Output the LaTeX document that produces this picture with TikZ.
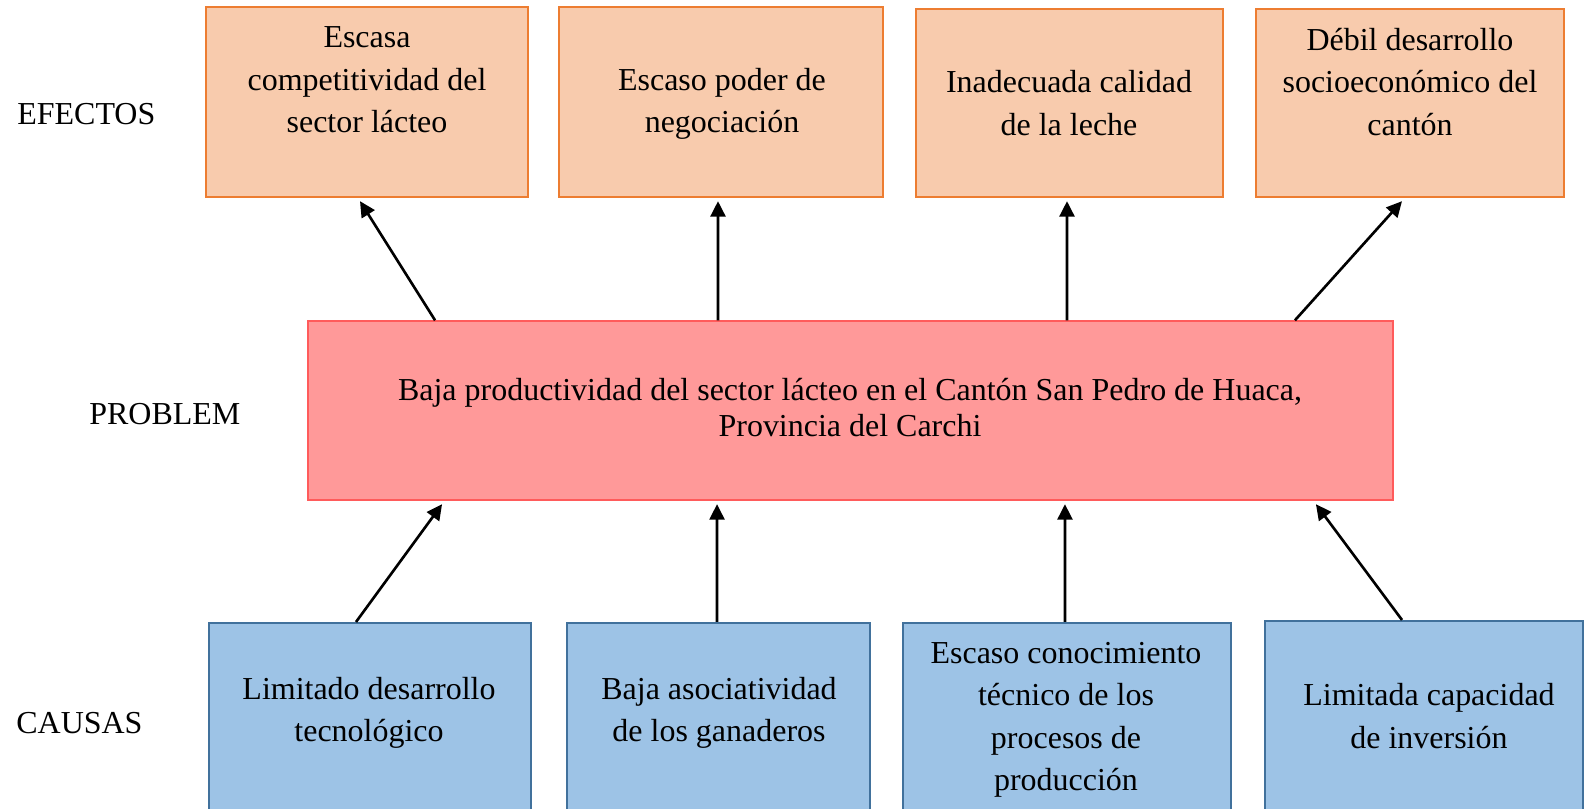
\documentclass[tikz,border=0pt]{standalone}
\usepackage{fontspec}
\setmainfont{Liberation Serif}
\usetikzlibrary{arrows.meta}

\definecolor{efectofill}{HTML}{F8CBAD}
\definecolor{efectodraw}{HTML}{ED7D31}
\definecolor{problemfill}{HTML}{FF9999}
\definecolor{problemdraw}{HTML}{FF5B5B}
\definecolor{causafill}{HTML}{9DC3E6}
\definecolor{causadraw}{HTML}{41719C}

\begin{document}
\begin{tikzpicture}[x=0.02cm,y=-0.02cm,
    efecto/.style={draw=efectodraw,fill=efectofill,line width=0.8pt,minimum height=3.8cm,inner sep=0},
    problem/.style={draw=problemdraw,fill=problemfill,line width=0.8pt,minimum height=3.58cm,inner sep=0},
    causa/.style={draw=causadraw,fill=causafill,line width=1.2pt,minimum height=4.14cm,inner sep=0},
    txt/.style={align=center,inner sep=0,font=\fontsize{18.2}{24.2}\selectfont},
    lbl/.style={anchor=west,inner sep=0,font=\fontsize{18.2}{20}\selectfont},
    arr/.style={line width=1.5pt,-{Triangle[length=0.31cm,width=0.3cm]}}]
      \useasboundingbox[fill=white] (0,0) rectangle (1585,808);

      \node (e1) [efecto,minimum width=6.44cm] at (367,102) {};
      \node (e2) [efecto,minimum width=6.48cm] at (721,102) {};
      \node (e3) [efecto,minimum width=6.14cm,minimum height=3.76cm] at (1069.5,103) {};
      \node (e4) [efecto,minimum width=6.16cm,minimum height=3.76cm] at (1410,103) {};
      \node (p) [problem,minimum width=21.7cm] at (850.5,410.5) {};
      \node (c1) [causa,minimum width=6.44cm] at (370,726.5) {};
      \node (c2) [causa,minimum width=6.06cm] at (718.5,726.5) {};
      \node (c3) [causa,minimum width=6.56cm] at (1067,726.5) {};
      \node (c4) [causa,minimum width=6.36cm,minimum height=4.18cm] at (1424,725.5) {};

      \node (e1t) [txt] at (367,80) {Escasa\\competitividad del\\sector lácteo};
      \node (e2t) [txt] at (722,104) {Escaso poder de\\negociación};
      \node (e3t) [txt] at (1069,103) {Inadecuada calidad\\de la leche};
      \node (e4t) [txt] at (1410,82) {Débil desarrollo\\socioeconómico del\\cantón};
      \node (pt) [txt,font=\fontsize{18.2}{20.5}\selectfont] at (850,408) {Baja productividad del sector lácteo en el Cantón San Pedro de Huaca,\\Provincia del Carchi};
      \node (c1t) [txt] at (369,713) {Limitado desarrollo\\tecnológico};
      \node (c2t) [txt] at (719,713) {Baja asociatividad\\de los ganaderos};
      \node (c3t) [txt] at (1066,720) {Escaso conocimiento\\técnico de los\\procesos de\\producción};
      \node (c4t) [txt] at (1429,716) {Limitada capacidad\\de inversión};

      \node (efectos) [lbl] at (17,114) {EFECTOS};
      \node (problema) [lbl] at (89,414) {PROBLEM};
      \node (causas) [lbl] at (16,723) {CAUSAS};

      \draw[arr] ([xshift=-8.31cm]p.north) -- ([xshift=-0.14cm,yshift=-0.07cm]e1.south);
      \draw[arr] ([xshift=-2.65cm]p.north) -- ([xshift=-0.06cm,yshift=-0.07cm]e2.south);
      \draw[arr] ([xshift=4.33cm]p.north) -- ([xshift=-0.05cm,yshift=-0.07cm]e3.south);
      \draw[arr] ([xshift=8.89cm]p.north) -- ([xshift=-0.16cm,yshift=-0.07cm]e4.south);
      \draw[arr] ([xshift=-0.28cm]c1.north) -- ([xshift=-8.17cm,yshift=-0.07cm]p.south);
      \draw[arr] ([xshift=-0.03cm]c2.north) -- ([xshift=-2.67cm,yshift=-0.07cm]p.south);
      \draw[arr] ([xshift=-0.04cm]c3.north) -- ([xshift=4.29cm,yshift=-0.07cm]p.south);
      \draw[arr] ([xshift=-0.44cm]c4.north) -- ([xshift=9.31cm,yshift=-0.07cm]p.south);
\end{tikzpicture}
\end{document}
